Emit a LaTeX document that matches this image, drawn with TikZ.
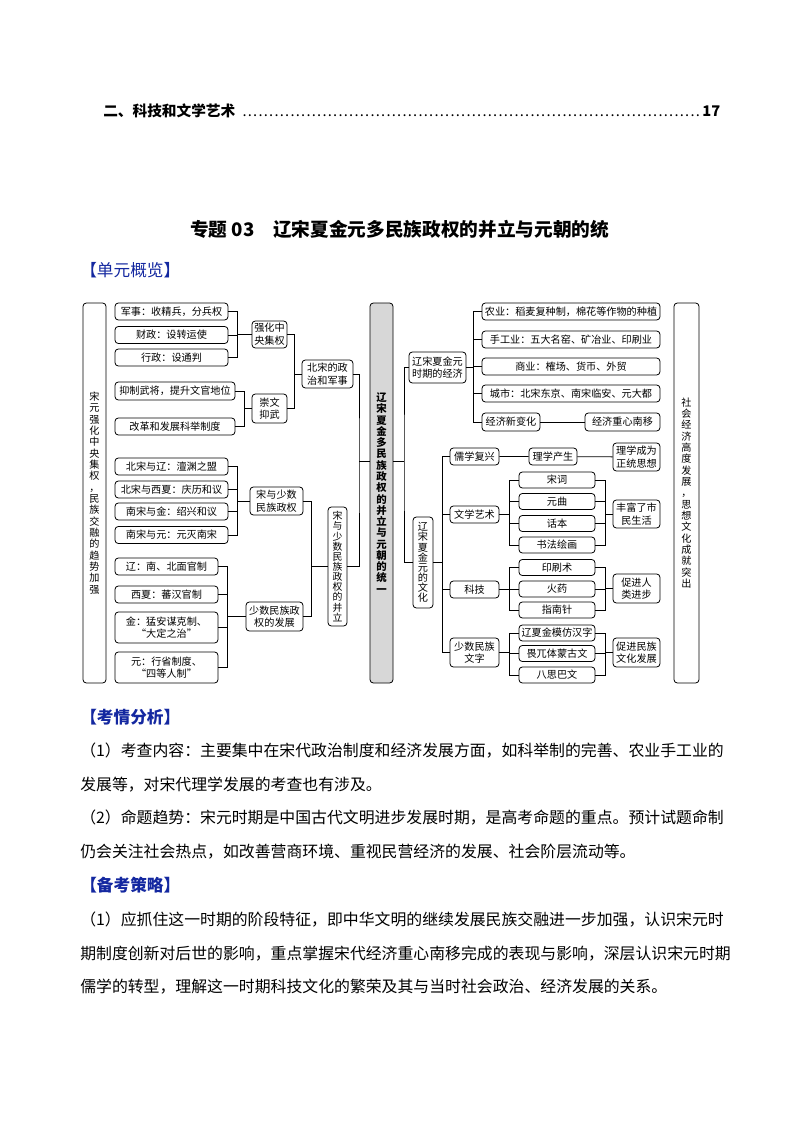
\documentclass[tikz,border=0pt]{standalone}
\usepackage{fontspec}
\setmainfont{Noto Sans CJK SC}
\usepackage{tikz}
\usetikzlibrary{positioning}
\definecolor{hdblue}{RGB}{20,40,160}
\definecolor{boxgray}{RGB}{215,215,215}
\makeatletter
\newcommand\vtxt[1]{\def\vsep{}\@tfor\vch:=#1\do{\vsep\vch\def\vsep{\par}}}
\makeatother
\newcommand\tocdots{{\mdseries\leaders\hbox to 4pt{\hss.\hss}\hfill}}
\tikzset{
  bx/.style={draw, rounded corners=2.5pt, line width=0.6pt, inner sep=0pt, align=center, font=\fontsize{7.6pt}{9.5pt}\selectfont},
  wh/.style 2 args={minimum width=#1*0.75pt, minimum height=#2*0.75pt},
  vbx/.style={bx, text width=9pt, font=\fontsize{7.6pt}{8.5pt}\selectfont},
  ln/.style={line width=0.6pt},
  hd/.style={anchor=west, inner sep=0pt, text=hdblue, font=\fontsize{12.5pt}{12.5pt}\selectfont},
  body/.style={anchor=west, inner sep=0pt, font=\fontsize{11.9pt}{11.9pt}\selectfont},
}
\begin{document}
\begin{tikzpicture}[x=0.75pt, y=-0.75pt]
  \useasboundingbox (0,0) rectangle (794,1123);
  % page text
  \node[anchor=west, inner sep=0pt, font=\fontsize{11pt}{11pt}\selectfont\bfseries] (toc) at (103,111) {\makebox[462.75pt]{二、科技和文学艺术\ \tocdots 17}};
  \node[anchor=west, inner sep=0pt, font=\fontsize{14pt}{14pt}\selectfont\bfseries] (title) at (190,229) {专题 03\quad 辽宋夏金元多民族政权的并立与元朝的统};
  \node[hd] (h1) at (80,270) {【单元概览】};

  % side panels
  \node[vbx, wh={23}{380}] (L) at (94.5,493) {\vtxt{宋元强化中央集权，民族交融的趋势加强}};
  \node[vbx, wh={23}{380}, fill=boxgray, font=\fontsize{7.8pt}{8.45pt}\selectfont\bfseries] (C) at (381.5,493) {\vtxt{辽宋夏金多民族政权的并立与元朝的统一}};
  \node[vbx, wh={25}{380}] (R) at (686.5,493) {\vtxt{社会经济高度发展，思想文化成就突出}};

  % left half
  \node[bx, wh={113}{17}] (jun) at (171.5,311.5) {军事：收精兵，分兵权};
  \node[bx, wh={113}{17}] (cai) at (171.5,335) {财政：设转运使};
  \node[bx, wh={113}{17}] (xing) at (171.5,357.5) {行政：设通判};
  \node[bx, wh={35}{27}] (qhzy) at (269.5,334.5) {强化中\\央集权};
  \node[bx, wh={120}{18}] (yzwj) at (175,391) {抑制武将，提升文官地位};
  \node[bx, wh={120}{17}] (gg) at (175,426.5) {改革和发展科举制度};
  \node[bx, wh={35}{29}] (cwyw) at (269.5,408.5) {崇文\\抑武};
  \node[bx, wh={51}{28}] (bszz) at (327.5,374) {北宋的政\\治和军事};
  \node[bx, wh={113}{17}] (bsl) at (171.5,466.5) {北宋与辽：澶渊之盟};
  \node[bx, wh={113}{17}] (bsx) at (171.5,489.5) {北宋与西夏：庆历和议};
  \node[bx, wh={113}{17}] (nsj) at (171.5,511.5) {南宋与金：绍兴和议};
  \node[bx, wh={113}{17}] (nsy) at (171.5,535) {南宋与元：元灭南宋};
  \node[bx, wh={53}{28}] (sssm) at (276.5,501) {宋与少数\\民族政权};
  \node[bx, wh={103}{17}] (liao) at (166.5,566.5) {辽：南、北面官制};
  \node[bx, wh={103}{17}] (xx) at (166.5,594.5) {西夏：蕃汉官制};
  \node[bx, wh={103}{31}] (jin) at (166.5,627.5) {金：猛安谋克制、\\“大定之治”};
  \node[bx, wh={103}{31}] (yuan) at (166.5,667.5) {元：行省制度、\\“四等人制”};
  \node[bx, wh={57}{29}] (ssfz) at (274.5,616.5) {少数民族政\\权的发展};
  \node[vbx, wh={19}{119}, font=\fontsize{7.4pt}{7.6pt}\selectfont] (blz) at (337.5,566.5) {\vtxt{宋与少数民族政权的并立}};

  % right half
  \node[bx, wh={57}{31}] (jj) at (437.5,367.5) {辽宋夏金元\\时期的经济};
  \node[bx, wh={178}{17}] (nye) at (571,311.5) {农业：稻麦复种制，棉花等作物的种植};
  \node[bx, wh={178}{17}] (sg) at (571,339.5) {手工业：五大名窑、矿冶业、印刷业};
  \node[bx, wh={178}{17}] (sy) at (571,366.5) {商业：榷场、货币、外贸};
  \node[bx, wh={178}{17}] (cs) at (571,393.5) {城市：北宋东京、南宋临安、元大都};
  \node[bx, wh={58}{18}] (jx) at (511,422) {经济新变化};
  \node[bx, wh={75}{18}] (jz) at (622.5,422) {经济重心南移};
  \node[vbx, wh={20}{91}, font=\fontsize{7.6pt}{7.6pt}\selectfont] (wh) at (423,562.5) {\vtxt{辽宋夏金元的文化}};
  \node[bx, wh={49}{17}] (rx) at (474.5,456.5) {儒学复兴};
  \node[bx, wh={48}{17}] (lxcs) at (553,456.5) {理学产生};
  \node[bx, wh={47}{28}] (lxzt) at (636.5,457) {理学成为\\正统思想};
  \node[bx, wh={49}{17}] (wx) at (474.5,514.5) {文学艺术};
  \node[bx, wh={76}{16}] (sc) at (557,480) {宋词};
  \node[bx, wh={76}{16}] (yq) at (557,501.5) {元曲};
  \node[bx, wh={76}{16}] (hb) at (557,523.5) {话本};
  \node[bx, wh={76}{16}] (sf) at (557,545) {书法绘画};
  \node[bx, wh={47}{28}] (fsm) at (636.5,514) {丰富了市\\民生活};
  \node[bx, wh={49}{17}] (kj) at (474.5,589.5) {科技};
  \node[bx, wh={76}{16}] (ys) at (557,567.5) {印刷术};
  \node[bx, wh={76}{16}] (hy) at (557,589) {火药};
  \node[bx, wh={76}{16}] (zn) at (557,610) {指南针};
  \node[bx, wh={47}{29}] (cj) at (636.5,588.5) {促进人\\类进步};
  \node[bx, wh={49}{29}] (ssw) at (474.5,652.5) {少数民族\\文字};
  \node[bx, wh={76}{16}] (lx) at (557,633) {辽夏金模仿汉字};
  \node[bx, wh={76}{16}] (ww) at (557,653.5) {畏兀体蒙古文};
  \node[bx, wh={76}{16}] (bs) at (557,675) {八思巴文};
  \node[bx, wh={47}{29}] (cm) at (636.5,652.5) {促进民族\\文化发展};

  % connectors, left
  \draw[ln] (qhzy.west) -- ++(-14,0) coordinate (k1);
  \draw[ln] (jun.east) -| (k1) |- (xing.east);
  \draw[ln] (cai.east) -- (cai.east -| k1);
  \draw[ln] (cwyw.west) -- ++(-7,0) coordinate (k2);
  \draw[ln] (yzwj.east) -| (k2) |- (gg.east);
  \draw[ln] (bszz.west) -- ++(-7,0) coordinate (k3);
  \draw[ln] (qhzy.east) -| (k3) |- (cwyw.east);
  \draw[ln] (sssm.west) -- ++(-12,0) coordinate (k4);
  \draw[ln] (bsl.east) -| (k4) |- (nsy.east);
  \foreach \n in {bsx,nsj} \draw[ln] (\n.east) -- (\n.east -| k4);
  \draw[ln] (ssfz.west) -- ++(-18,0) coordinate (k5);
  \draw[ln] (liao.east) -| (k5) |- (yuan.east);
  \foreach \n in {xx,jin} \draw[ln] (\n.east) -- (\n.east -| k5);
  \draw[ln] (blz.west) -- ++(-16,0) coordinate (k6);
  \draw[ln] (sssm.east) -| (k6) |- (ssfz.east);
  \coordinate (c1) at (359,461);
  \draw[ln] (bszz.east) -| (c1) |- (blz.east);
  \draw[ln] (c1) -- (c1 -| C.west);

  % connectors, right
  \coordinate (c2) at (404,461);
  \draw[ln] (jj.west) -| (c2) |- (wh.west);
  \draw[ln] (C.east |- c2) -- (c2);
  \draw[ln] (jj.east) -- ++(7,0) coordinate (k7);
  \draw[ln] (nye.west) -| (k7) |- (jx.west);
  \foreach \n in {sg,sy,cs} \draw[ln] (\n.west) -- (\n.west -| k7);
  \draw[ln] (jx) -- (jz);
  \draw[ln] (wh.east) -- ++(9,0) coordinate (k8);
  \draw[ln] (rx.west) -| (k8) |- (ssw.west);
  \foreach \n in {wx,kj} \draw[ln] (\n.west) -- (\n.west -| k8);
  \draw[ln] (rx) -- (lxcs) -- (lxzt);
  \draw[ln] (wx.east) -- ++(10,0) coordinate (k9);
  \draw[ln] (sc.west) -| (k9) |- (sf.west);
  \draw[ln] (fsm.west) -- ++(-7,0) coordinate (k10);
  \draw[ln] (sc.east) -| (k10) |- (sf.east);
  \foreach \n in {yq,hb} \draw[ln] (\n.west) -- (\n.west -| k9) (\n.east) -- (\n.east -| k10);
  \draw[ln] (kj.east) -- ++(10,0) coordinate (k11);
  \draw[ln] (ys.west) -| (k11) |- (zn.west);
  \draw[ln] (cj.west) -- ++(-7,0) coordinate (k12);
  \draw[ln] (ys.east) -| (k12) |- (zn.east);
  \draw[ln] (hy.west) -- (hy.west -| k11) (hy.east) -- (hy.east -| k12);
  \draw[ln] (ssw.east) -- ++(10,0) coordinate (k13);
  \draw[ln] (lx.west) -| (k13) |- (bs.west);
  \draw[ln] (cm.west) -- ++(-7,0) coordinate (k14);
  \draw[ln] (lx.east) -| (k14) |- (bs.east);
  \draw[ln] (ww.west) -- (ww.west -| k13) (ww.east) -- (ww.east -| k14);

  % analysis text
  \node[hd, font=\fontsize{12.5pt}{12.5pt}\selectfont\bfseries] (h2) at (80,717) {【考情分析】};
  \node[body] (p1) at (80,751) {（1）考查内容：主要集中在宋代政治制度和经济发展方面，如科举制的完善、农业手工业的};
  \node[body] (p2) at (80,785) {发展等，对宋代理学发展的考查也有涉及。};
  \node[body] (p3) at (80,818) {（2）命题趋势：宋元时期是中国古代文明进步发展时期，是高考命题的重点。预计试题命制};
  \node[body] (p4) at (80,852) {仍会关注社会热点，如改善营商环境、重视民营经济的发展、社会阶层流动等。};
  \node[hd, font=\fontsize{12.5pt}{12.5pt}\selectfont\bfseries] (h3) at (80,885) {【备考策略】};
  \node[body] (q1) at (80,920) {（1）应抓住这一时期的阶段特征，即中华文明的继续发展民族交融进一步加强，认识宋元时};
  \node[body] (q2) at (80,954) {期制度创新对后世的影响，重点掌握宋代经济重心南移完成的表现与影响，深层认识宋元时期};
  \node[body] (q3) at (80,987) {儒学的转型，理解这一时期科技文化的繁荣及其与当时社会政治、经济发展的关系。};
\end{tikzpicture}
\end{document}
